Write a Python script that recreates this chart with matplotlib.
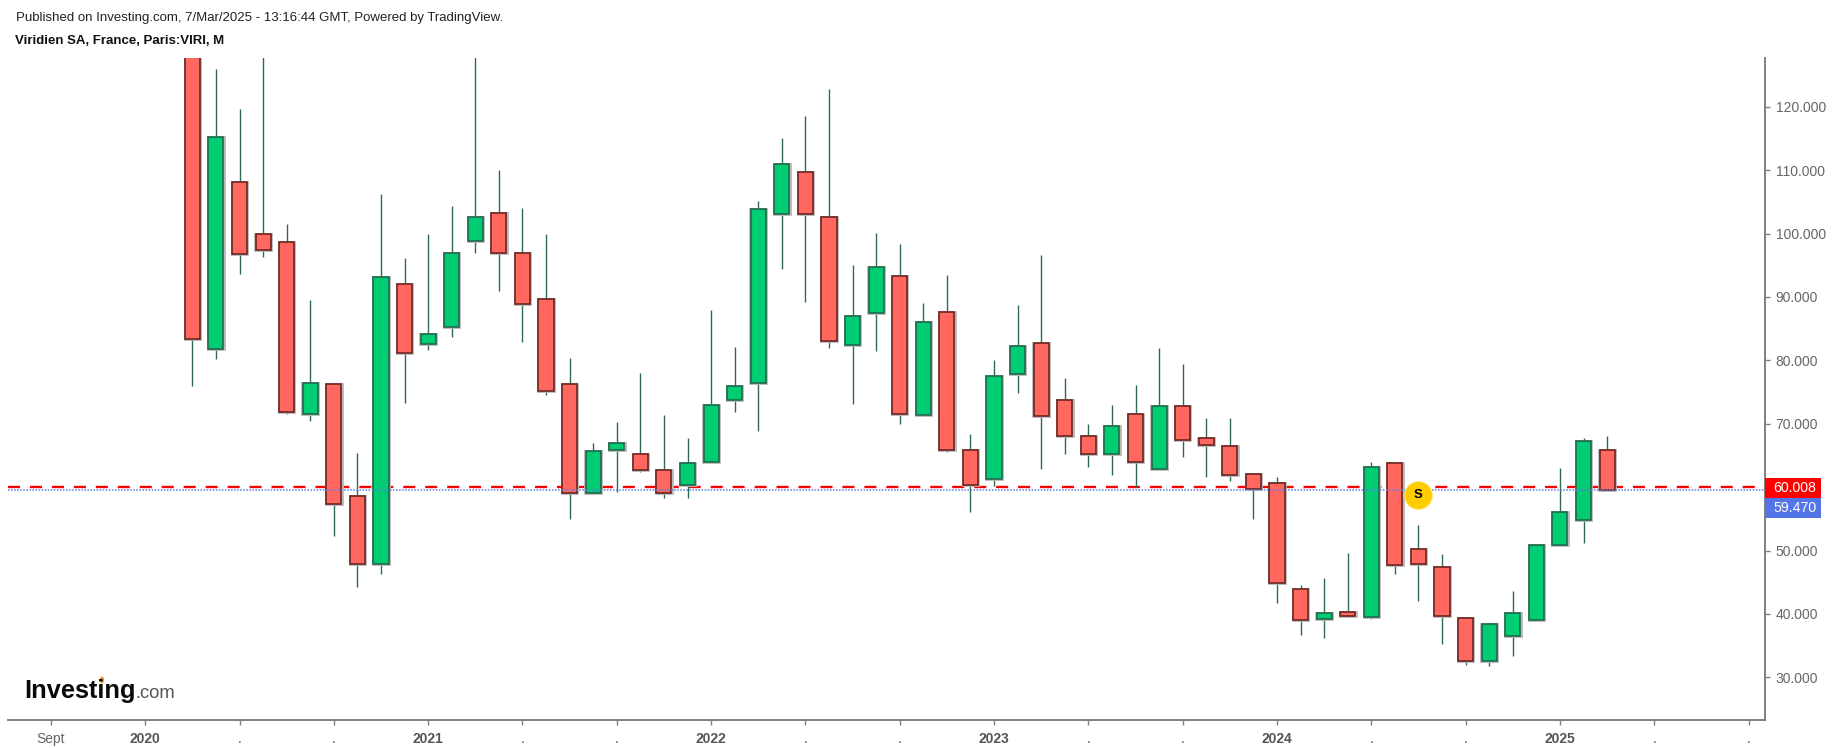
import matplotlib
matplotlib.use('Agg')
import matplotlib.pyplot as plt
from matplotlib.patches import Rectangle, Ellipse
import numpy as np

plt.rcParams['font.family'] = ['Liberation Sans', 'DejaVu Sans']

# monthly candles, Mar 2020 .. Mar 2025
opens = [135.0, 81.8, 108.1, 100.0, 98.7, 71.6, 76.2, 58.6, 47.9, 92.1, 82.6, 85.2, 98.8,
         103.2, 97.0, 89.6, 76.2, 59.0, 65.9, 65.3, 62.7, 60.4, 63.9, 73.7, 76.5, 103.1,
         109.7, 102.6, 82.4, 87.4, 93.3, 71.4, 87.6, 65.9, 61.3, 77.9, 82.8, 73.8, 68.1,
         65.3, 71.6, 62.9, 72.8, 67.7, 66.5, 62.0, 60.6, 44.0, 39.2, 40.3, 39.5, 63.8,
         50.2, 47.4, 39.3, 32.5, 36.5, 39.0, 50.9, 54.8, 65.9]
highs = [140.0, 125.9, 119.6, 131.0, 101.5, 89.5, 76.3, 65.4, 106.2, 96.1, 100.0, 104.4, 130.0,
         110.0, 104.0, 99.9, 80.4, 67.0, 70.3, 78.0, 71.3, 67.7, 87.9, 82.1, 105.2, 115.1,
         118.5, 122.8, 95.1, 100.1, 98.3, 89.0, 93.4, 68.3, 80.0, 88.7, 96.6, 77.2, 69.9,
         72.9, 76.1, 81.9, 79.4, 70.9, 70.9, 62.2, 61.6, 44.6, 45.7, 49.6, 64.0, 63.8,
         54.0, 49.5, 39.3, 38.6, 43.6, 51.1, 63.0, 67.7, 68.0]
lows = [76.0, 80.2, 93.6, 96.3, 71.5, 70.5, 52.3, 44.3, 46.3, 73.3, 81.6, 83.6, 97.0,
        91.0, 82.9, 74.6, 54.9, 59.0, 59.3, 62.4, 58.3, 58.3, 63.9, 71.9, 68.9, 94.4,
        89.2, 82.0, 73.1, 81.5, 69.9, 71.4, 65.6, 56.0, 60.1, 74.9, 62.8, 65.2, 63.1,
        61.9, 60.0, 62.9, 64.8, 61.6, 60.9, 54.9, 41.8, 36.6, 36.2, 39.6, 39.2, 46.3,
        42.1, 35.2, 32.0, 31.8, 33.4, 39.0, 50.9, 51.2, 59.47]
closes = [83.4, 115.2, 96.8, 97.4, 71.8, 76.4, 57.4, 47.9, 93.1, 81.1, 84.1, 96.9, 102.6,
          97.0, 88.9, 75.2, 59.0, 65.7, 66.9, 62.7, 59.0, 63.8, 73.0, 76.0, 103.8, 110.9,
          103.1, 83.0, 87.0, 94.7, 71.6, 86.0, 65.9, 60.4, 77.6, 82.3, 71.2, 68.0, 65.2,
          69.6, 63.9, 72.8, 67.4, 66.6, 61.9, 59.7, 44.8, 39.0, 40.1, 39.6, 63.2, 47.7,
          47.9, 39.6, 32.5, 38.4, 40.1, 50.9, 56.1, 67.3, 59.47]

# months since Jan 2020
first_month = 2
month_ticks = [-4, 0, 4, 8, 12, 16, 20, 24, 28, 32, 36, 40, 44, 48, 52, 56, 60, 64, 68]
month_labels = ['Sept', '2020', '.', '.', '2021', '.', '.', '2022', '.', '.', '2023', '.', '.',
                '2024', '.', '.', '2025', '.', '.']
price_ticks = [30, 40, 50, 60, 70, 80, 90, 100, 110, 120]

red_line = 60.008
last_price = 59.470
signal_month = 54
signal_price = 58.8

W, H = 1835, 748
fig = plt.figure(figsize=(W / 100, H / 100), dpi=100, facecolor='white')
ax = fig.add_axes([8 / W, 1 - 720 / H, (1764.6 - 8) / W, (720 - 58) / H])
ax.set_xlim(-5.818, 68.68)
ax.set_ylim(23.27, 127.68)

x = first_month + np.arange(len(opens))
o = np.array(opens)
c = np.array(closes)
up = c >= o

ax.vlines(x, lows, highs, color='#2f6b52', lw=1.0, zorder=3)
# soft grey rim round the bodies, the source image is a bit blurred
ax.bar(x, np.abs(c - o), bottom=np.minimum(o, c), width=0.66, color='none',
       edgecolor='#b8b8b8', linewidth=2.0, zorder=3.5)
ax.bar(x, np.abs(c - o), bottom=np.minimum(o, c), width=0.64,
       color=np.where(up, '#00cc73', '#ff675f'),
       edgecolor=np.where(up, '#1f6a4c', '#6b2420'), linewidth=1.2, zorder=4)

ax.axhline(red_line, color='#ff0000', lw=1.7, dashes=(5.1, 4.2), zorder=2)
ax.axhline(last_price, color='#5b7fe6', lw=1.1, dashes=(1, 1), zorder=5)

ax.plot([signal_month], [signal_price], 'o', ms=20, color='#ffcc00', mec='#ffe680', mew=0.6, zorder=6)
ax.text(signal_month, signal_price - 0.1, 'S', fontsize=9.5, fontweight='bold', color='black',
        ha='center', va='center', zorder=7)

for side in ['top', 'left']:
    ax.spines[side].set_visible(False)
for side in ['right', 'bottom']:
    ax.spines[side].set_color('#808080')
    ax.spines[side].set_linewidth(1.4)

ax.yaxis.tick_right()
ax.set_yticks(price_ticks)
ax.set_yticklabels(['%.3f' % p for p in price_ticks])
ax.tick_params(axis='y', length=3.5, width=1, color='#808080', labelcolor='#666666',
               labelsize=10, pad=4.5)
ax.set_xticks(month_ticks)
ax.set_xticklabels(month_labels)
ax.tick_params(axis='x', length=3.5, width=1, color='#808080', labelcolor='#555555',
               labelsize=10, pad=5)
for lab in ax.get_xticklabels():
    if lab.get_text().isdigit():
        lab.set_fontweight('bold')
    elif lab.get_text() == 'Sept':
        lab.set_color('#666666')
ax.get_yticklabels()[3].set_visible(False)


def px(xp, yp):
    return xp / W, 1 - yp / H


# price boxes on the axis
fig.patches.append(Rectangle(px(1765, 498), 56 / W, 20 / H, transform=fig.transFigure,
                             facecolor='#ff0000', edgecolor='none'))
fig.patches.append(Rectangle(px(1765, 518), 56 / W, 20 / H, transform=fig.transFigure,
                             facecolor='#5275e8', edgecolor='none'))
fig.text(*px(1773, 488.5), '%.3f' % red_line, color='white', fontsize=10.2, va='center')
fig.text(*px(1773, 508.5), '%.3f' % last_price, color='white', fontsize=10.2, va='center')

# header
fig.text(*px(16, 17.5), 'Published on Investing.com, 7/Mar/2025 - 13:16:44 GMT, Powered by TradingView.',
         fontsize=9.55, color='#222222', va='center')
fig.text(*px(15, 40.5), 'Viridien SA, France, Paris:VIRI, M', fontsize=9.5, fontweight='bold',
         color='#111111', va='center')

# logo
fig.text(*px(24, 691), 'Investing', fontsize=18.3, fontweight='bold', color='#0a0a0a', va='center')
fig.text(*px(135, 693), '.com', fontsize=13.2, color='#555555', va='center')
fig.patches.append(Ellipse(px(102, 680), 4 / W, 7 / H, transform=fig.transFigure,
                           facecolor='#f7941d', edgecolor='none'))

fig.savefig('out.png', dpi=100)
